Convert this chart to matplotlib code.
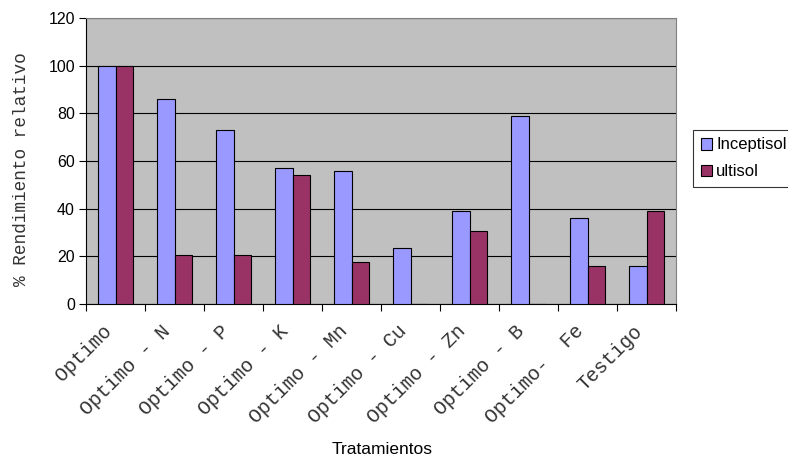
import matplotlib
matplotlib.use("Agg")
import matplotlib.pyplot as plt
import matplotlib.transforms as mtransforms
import numpy as np

categories = ["Optimo", "Optimo - N", "Optimo - P", "Optimo - K", "Optimo - Mn",
              "Optimo - Cu", "Optimo - Zn", "Optimo - B", "Optimo-  Fe", "Testigo"]
inceptisol = [100, 86, 73, 57, 56, 23.5, 39, 79, 36, 16]
ultisol = [100, 20.5, 20.5, 54, 17.5, 0, 30.5, 0, 16, 39]
yticks = [0, 20, 40, 60, 80, 100, 120]

fig = plt.figure(figsize=(7.88, 4.58), dpi=100)
ax = fig.add_axes([86/788, 1-304/458, (676-86)/788, (304-18)/458])
ax.set_facecolor("#C0C0C0")

x = np.arange(len(categories))
w = 0.29
b1 = ax.bar(x - w/2, inceptisol, w, color="#9999FF", edgecolor="black", linewidth=0.8,
            label="Inceptisol", zorder=3)
b2 = ax.bar(x + w/2, ultisol, w, color="#993366", edgecolor="black", linewidth=0.8,
            label="ultisol", zorder=3)

ax.set_xlim(-0.5, len(categories) - 0.5)
ax.set_ylim(0, 120)
ax.set_yticks(yticks)
ax.set_yticklabels([str(v) for v in yticks], fontsize=11.5, family="Liberation Sans")
ax.yaxis.grid(True, color="black", linewidth=0.8, zorder=1)
ax.set_axisbelow(True)

ax.set_xticks(np.arange(len(categories) + 1) - 0.5)
ax.set_xticklabels([])
ax.tick_params(axis="x", which="major", length=5, direction="out", color="black")
ax.tick_params(axis="y", length=5, direction="out", color="black", pad=3)

# category labels, rotated, placed at each category centre
base = mtransforms.blended_transform_factory(ax.transData, ax.transAxes)
offset = mtransforms.ScaledTranslation(-14/100, -17.5/100, fig.dpi_scale_trans)
for xi, lab in zip(x, categories):
    ax.text(xi, 0, lab, transform=base + offset, rotation=45, ha="right", va="top",
            rotation_mode="anchor", fontsize=14.3, family="Liberation Mono",
            color="#333333", clip_on=False)

for side in ["top", "right"]:
    ax.spines[side].set_color("#808080")
ax.spines["left"].set_color("black")
ax.spines["bottom"].set_color("black")

ax.set_ylabel("% Rendimiento relativo", family="Liberation Mono", fontsize=12.8,
              color="#333333")
ax.yaxis.set_label_coords((30 - 86) / 590, 0.47)
fig.text(382/788, 1-454/458, "Tratamientos", ha="center", va="baseline",
         fontsize=12.5, family="Liberation Sans")

leg = fig.legend(handles=[b1, b2], loc="upper left",
                 bbox_to_anchor=(693/788, 1-130/458), frameon=True, fancybox=False,
                 edgecolor="black", prop={"family": "Liberation Sans", "size": 12},
                 handlelength=0.7, handleheight=0.7, handletextpad=0.25,
                 borderpad=0.45, labelspacing=0.7, borderaxespad=0)
leg.get_frame().set_linewidth(0.8)

fig.savefig("out.png", dpi=100)
